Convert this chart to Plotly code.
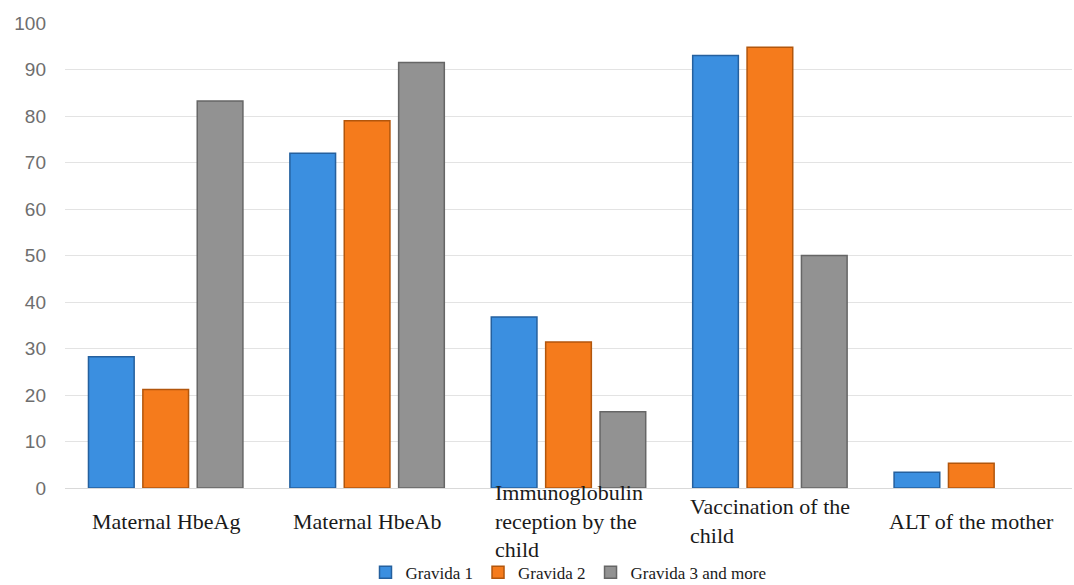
import plotly.graph_objects as go

categories = [
    "Maternal HbeAg",
    "Maternal HbeAb",
    "Immunoglobulin<br>reception by the<br>child",
    "Vaccination of the<br>child",
    "ALT of the mother",
]
series_names = ["Gravida 1", "Gravida 2", "Gravida 3 and more"]
gravida_1 = [28.2, 72.0, 36.8, 93.0, 3.4]
gravida_2 = [21.2, 79.0, 31.4, 94.8, 5.3]
gravida_3 = [83.2, 91.5, 16.4, 50.0, 0.0]
y_ticks = [0, 10, 20, 30, 40, 50, 60, 70, 80, 90, 100]

fills = ["#3b8fe0", "#f57b1c", "#929292"]
edges = ["#25609e", "#b2560c", "#666666"]

x_pos = list(range(len(categories)))

fig = go.Figure()
for name, vals, fc, ec in zip(series_names, [gravida_1, gravida_2, gravida_3], fills, edges):
    # no outline on empty bars so a zero value leaves nothing on the baseline
    widths = [1.5 if v > 0 else 0 for v in vals]
    fig.add_trace(go.Bar(
        x=x_pos, y=vals, name=name,
        marker=dict(color=fc, line=dict(color=ec, width=widths)),
    ))

# category labels below the axis, lines left-aligned inside a centred block
for i, label in enumerate(categories):
    fig.add_annotation(
        x=i, xref="x", y=-0.072, yref="paper",
        text=label, showarrow=False, align="left",
        xanchor="center", yanchor="middle",
        font=dict(family="Liberation Serif", size=22, color="#1a1a1a"),
    )

fig.update_layout(
    width=1074, height=585,
    margin=dict(l=65, r=2, t=23, b=97, autoexpand=False),
    paper_bgcolor="white", plot_bgcolor="white",
    barmode="group", bargap=0.19, bargroupgap=0.16,
    showlegend=True,
    legend=dict(
        orientation="h", x=0.5, xanchor="center", y=-0.182, yanchor="middle",
        font=dict(family="Liberation Serif", size=17, color="#1a1a1a"),
        itemwidth=30, tracegroupgap=0,
    ),
    xaxis=dict(
        range=[-0.5, len(categories) - 0.5],
        showticklabels=False, showgrid=False, zeroline=False,
        showline=True, linecolor="#d9d9d9", linewidth=1,
    ),
    yaxis=dict(
        range=[0, 100], tickvals=y_ticks,
        showgrid=True, gridcolor="#e3e3e3", gridwidth=1,
        zeroline=False, showline=False,
        tickfont=dict(family="Liberation Sans", size=19, color="#6e6e6e"),
        ticklabelstandoff=18,
    ),
)

fig.write_html("out.html")
